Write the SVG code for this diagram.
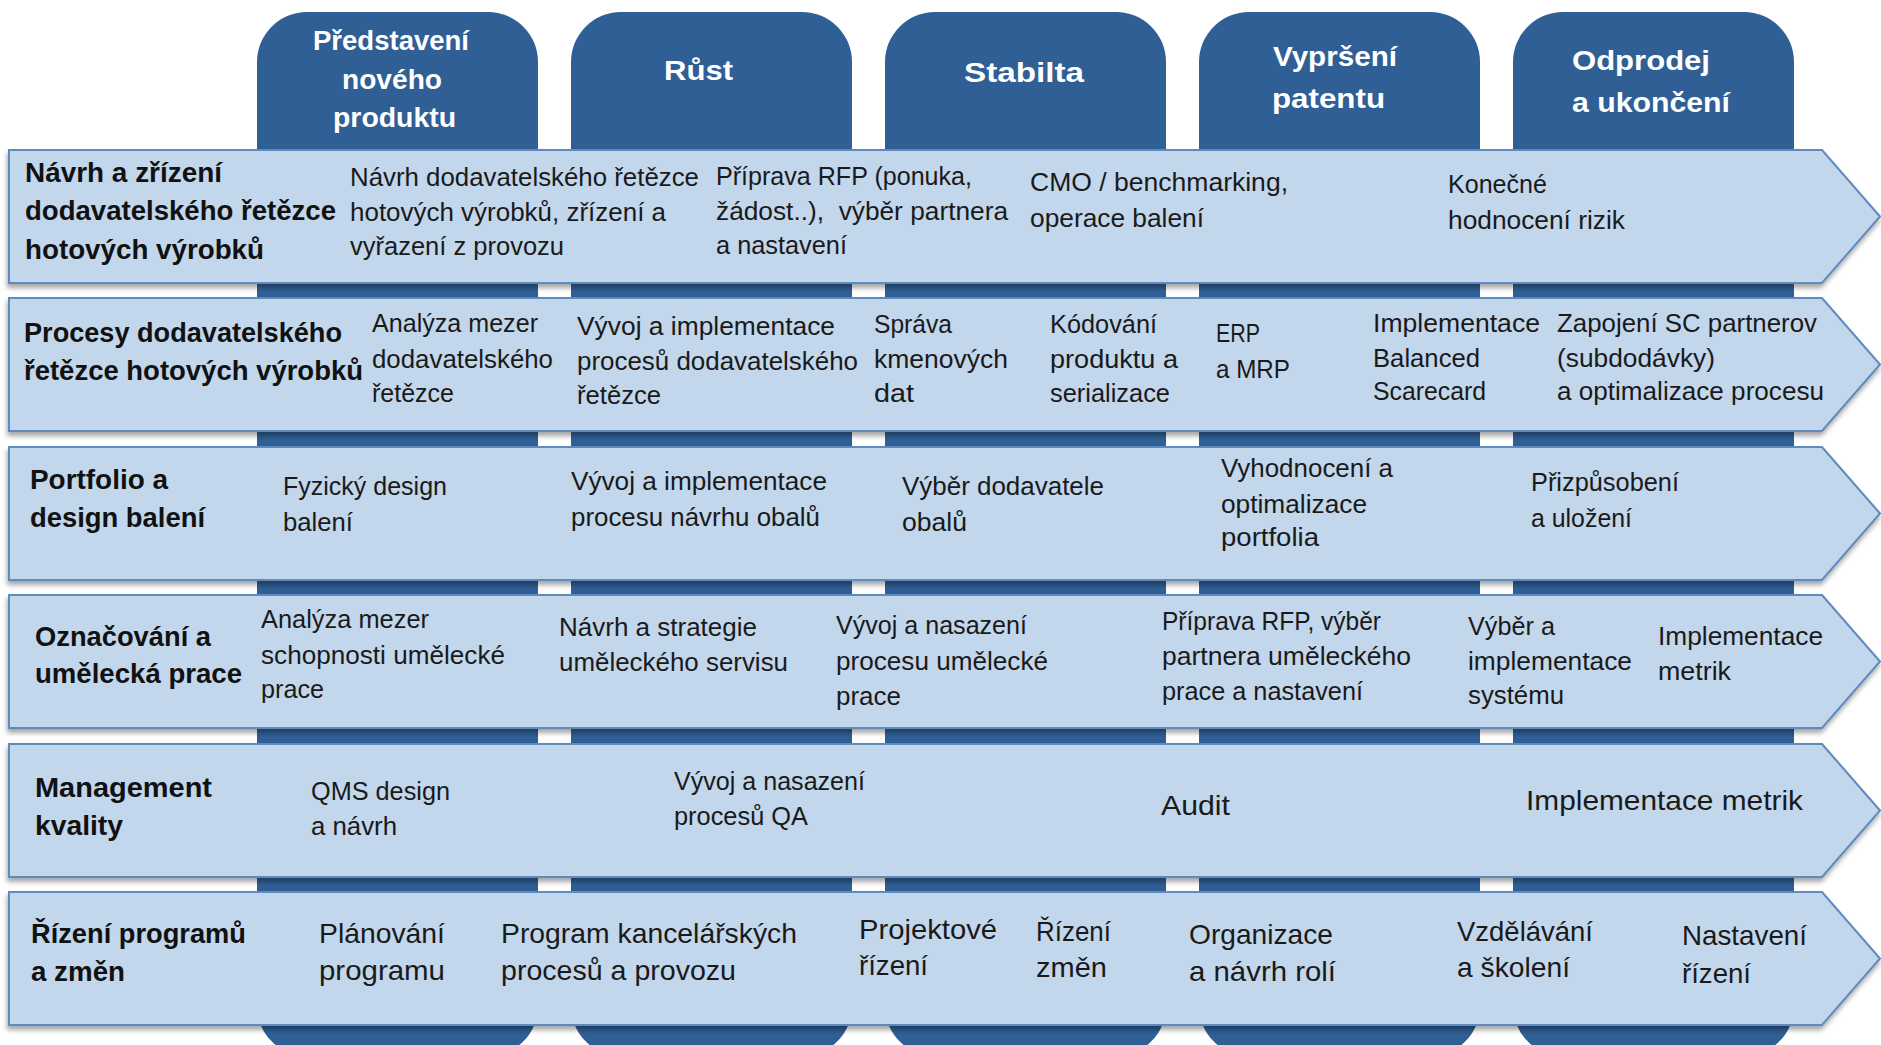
<svg xmlns="http://www.w3.org/2000/svg" width="1881" height="1045" viewBox="0 0 1881 1045">
  <defs>
    <filter id="bandShadow" x="-2%" y="-10%" width="104%" height="130%">
      <feDropShadow dx="-1" dy="4" stdDeviation="2.5" flood-color="#000" flood-opacity="0.35"/>
    </filter>
    <!-- chevron band shape, 133 tall -->
    <path id="band" d="M9,0 H1822 L1880,66.5 L1822,133 H9 Z"/>
  </defs>
  <style>
    .col { fill: #2f5f95; }
    .hdr { font-family: "Liberation Sans", Arial, sans-serif; font-weight: bold; font-size: 27px; fill: #ffffff; }
    .bandShape { fill: #c2d6ec; stroke: #5f8abd; stroke-width: 2; }
    .lbl { font-family: "Liberation Sans", Arial, sans-serif; font-weight: bold; font-size: 27px; fill: #111111; }
    .txt { font-family: "Liberation Sans", Arial, sans-serif; font-size: 25px; fill: #1a1a1a; }
    .big { font-size: 28px; }
  </style>

  <rect width="1881" height="1045" fill="#ffffff"/>

  <!-- lifecycle phase columns -->
  <g id="phase-introduction">
    <rect class="col" x="257" y="12" width="281" height="1044" rx="50" ry="50"/>
    <text class="hdr" x="313" y="50" textLength="156" lengthAdjust="spacingAndGlyphs">Představení</text>
    <text class="hdr" x="342" y="89" textLength="100" lengthAdjust="spacingAndGlyphs">nového</text>
    <text class="hdr" x="333" y="127" textLength="123" lengthAdjust="spacingAndGlyphs">produktu</text>
  </g>
  <g id="phase-growth">
    <rect class="col" x="571" y="12" width="281" height="1044" rx="50" ry="50"/>
    <text class="hdr" x="664" y="80" textLength="69" lengthAdjust="spacingAndGlyphs">Růst</text>
  </g>
  <g id="phase-stability">
    <rect class="col" x="885" y="12" width="281" height="1044" rx="50" ry="50"/>
    <text class="hdr" x="964" y="82" textLength="120" lengthAdjust="spacingAndGlyphs">Stabilta</text>
  </g>
  <g id="phase-patent-expiry">
    <rect class="col" x="1199" y="12" width="281" height="1044" rx="50" ry="50"/>
    <text class="hdr" x="1273" y="66" textLength="124" lengthAdjust="spacingAndGlyphs">Vypršení</text>
    <text class="hdr" x="1272" y="108" textLength="113" lengthAdjust="spacingAndGlyphs">patentu</text>
  </g>
  <g id="phase-divestment">
    <rect class="col" x="1513" y="12" width="281" height="1044" rx="50" ry="50"/>
    <text class="hdr" x="1572" y="70" textLength="138" lengthAdjust="spacingAndGlyphs">Odprodej</text>
    <text class="hdr" x="1572" y="112" textLength="158" lengthAdjust="spacingAndGlyphs">a ukončení</text>
  </g>

  <!-- workstream bands -->
  <g id="row-supply-chain-design">
    <use href="#band" y="150" class="bandShape" filter="url(#bandShadow)"/>
    <text class="lbl" x="25" y="182" textLength="197" lengthAdjust="spacingAndGlyphs">Návrh a zřízení</text>
    <text class="lbl" x="25" y="220" textLength="311" lengthAdjust="spacingAndGlyphs">dodavatelského řetězce</text>
    <text class="lbl" x="25" y="259" textLength="239" lengthAdjust="spacingAndGlyphs">hotových výrobků</text>
    <text class="txt" x="350" y="186" textLength="349" lengthAdjust="spacingAndGlyphs">Návrh dodavatelského řetězce</text>
    <text class="txt" x="350" y="221" textLength="316" lengthAdjust="spacingAndGlyphs">hotových výrobků, zřízení a</text>
    <text class="txt" x="350" y="255" textLength="214" lengthAdjust="spacingAndGlyphs">vyřazení z provozu</text>
    <text class="txt" x="716" y="185" textLength="256" lengthAdjust="spacingAndGlyphs">Příprava RFP (ponuka,</text>
    <text class="txt" x="716" y="220" textLength="292" lengthAdjust="spacingAndGlyphs" xml:space="preserve">žádost..),  výběr partnera</text>
    <text class="txt" x="716" y="254" textLength="131" lengthAdjust="spacingAndGlyphs">a nastavení</text>
    <text class="txt" x="1030" y="191" textLength="258" lengthAdjust="spacingAndGlyphs">CMO / benchmarking,</text>
    <text class="txt" x="1030" y="227" textLength="174" lengthAdjust="spacingAndGlyphs">operace balení</text>
    <text class="txt" x="1448" y="193" textLength="99" lengthAdjust="spacingAndGlyphs">Konečné</text>
    <text class="txt" x="1448" y="229" textLength="177" lengthAdjust="spacingAndGlyphs">hodnocení rizik</text>
  </g>

  <g id="row-supply-chain-processes">
    <use href="#band" y="298" class="bandShape" filter="url(#bandShadow)"/>
    <text class="lbl" x="24" y="342" textLength="318" lengthAdjust="spacingAndGlyphs">Procesy dodavatelského</text>
    <text class="lbl" x="24" y="380" textLength="339" lengthAdjust="spacingAndGlyphs">řetězce hotových výrobků</text>
    <text class="txt" x="372" y="332" textLength="166" lengthAdjust="spacingAndGlyphs">Analýza mezer</text>
    <text class="txt" x="372" y="368" textLength="181" lengthAdjust="spacingAndGlyphs">dodavatelského</text>
    <text class="txt" x="372" y="402" textLength="82" lengthAdjust="spacingAndGlyphs">řetězce</text>
    <text class="txt" x="577" y="335" textLength="258" lengthAdjust="spacingAndGlyphs">Vývoj a implementace</text>
    <text class="txt" x="577" y="370" textLength="281" lengthAdjust="spacingAndGlyphs">procesů dodavatelského</text>
    <text class="txt" x="577" y="404" textLength="84" lengthAdjust="spacingAndGlyphs">řetězce</text>
    <text class="txt" x="874" y="333" textLength="78" lengthAdjust="spacingAndGlyphs">Správa</text>
    <text class="txt" x="874" y="368" textLength="134" lengthAdjust="spacingAndGlyphs">kmenových</text>
    <text class="txt" x="874" y="402" textLength="40" lengthAdjust="spacingAndGlyphs">dat</text>
    <text class="txt" x="1050" y="333" textLength="107" lengthAdjust="spacingAndGlyphs">Kódování</text>
    <text class="txt" x="1050" y="368" textLength="128" lengthAdjust="spacingAndGlyphs">produktu a</text>
    <text class="txt" x="1050" y="402" textLength="120" lengthAdjust="spacingAndGlyphs">serializace</text>
    <text class="txt" x="1216" y="342" textLength="44" lengthAdjust="spacingAndGlyphs">ERP</text>
    <text class="txt" x="1216" y="378" textLength="74" lengthAdjust="spacingAndGlyphs">a MRP</text>
    <text class="txt" x="1373" y="332" textLength="167" lengthAdjust="spacingAndGlyphs">Implementace</text>
    <text class="txt" x="1373" y="367" textLength="107" lengthAdjust="spacingAndGlyphs">Balanced</text>
    <text class="txt" x="1373" y="400" textLength="113" lengthAdjust="spacingAndGlyphs">Scarecard</text>
    <text class="txt" x="1557" y="332" textLength="260" lengthAdjust="spacingAndGlyphs">Zapojení SC partnerov</text>
    <text class="txt" x="1557" y="367" textLength="158" lengthAdjust="spacingAndGlyphs">(subdodávky)</text>
    <text class="txt" x="1557" y="400" textLength="267" lengthAdjust="spacingAndGlyphs">a optimalizace procesu</text>
  </g>

  <g id="row-packaging">
    <use href="#band" y="447" class="bandShape" filter="url(#bandShadow)"/>
    <text class="lbl" x="30" y="489" textLength="138" lengthAdjust="spacingAndGlyphs">Portfolio a</text>
    <text class="lbl" x="30" y="527" textLength="175" lengthAdjust="spacingAndGlyphs">design balení</text>
    <text class="txt" x="283" y="495" textLength="164" lengthAdjust="spacingAndGlyphs">Fyzický design</text>
    <text class="txt" x="283" y="531" textLength="70" lengthAdjust="spacingAndGlyphs">balení</text>
    <text class="txt" x="571" y="490" textLength="256" lengthAdjust="spacingAndGlyphs">Vývoj a implementace</text>
    <text class="txt" x="571" y="526" textLength="249" lengthAdjust="spacingAndGlyphs">procesu návrhu obalů</text>
    <text class="txt" x="902" y="495" textLength="202" lengthAdjust="spacingAndGlyphs">Výběr dodavatele</text>
    <text class="txt" x="902" y="531" textLength="65" lengthAdjust="spacingAndGlyphs">obalů</text>
    <text class="txt" x="1221" y="477" textLength="172" lengthAdjust="spacingAndGlyphs">Vyhodnocení a</text>
    <text class="txt" x="1221" y="513" textLength="146" lengthAdjust="spacingAndGlyphs">optimalizace</text>
    <text class="txt" x="1221" y="546" textLength="98" lengthAdjust="spacingAndGlyphs">portfolia</text>
    <text class="txt" x="1531" y="491" textLength="148" lengthAdjust="spacingAndGlyphs">Přizpůsobení</text>
    <text class="txt" x="1531" y="527" textLength="101" lengthAdjust="spacingAndGlyphs">a uložení</text>
  </g>

  <g id="row-labeling-artwork">
    <use href="#band" y="595" class="bandShape" filter="url(#bandShadow)"/>
    <text class="lbl" x="35" y="646" textLength="176" lengthAdjust="spacingAndGlyphs">Označování a</text>
    <text class="lbl" x="35" y="683" textLength="207" lengthAdjust="spacingAndGlyphs">umělecká prace</text>
    <text class="txt" x="261" y="628" textLength="168" lengthAdjust="spacingAndGlyphs">Analýza mezer</text>
    <text class="txt" x="261" y="664" textLength="244" lengthAdjust="spacingAndGlyphs">schopnosti umělecké</text>
    <text class="txt" x="261" y="698" textLength="63" lengthAdjust="spacingAndGlyphs">prace</text>
    <text class="txt" x="559" y="636" textLength="198" lengthAdjust="spacingAndGlyphs">Návrh a strategie</text>
    <text class="txt" x="559" y="671" textLength="229" lengthAdjust="spacingAndGlyphs">uměleckého servisu</text>
    <text class="txt" x="836" y="634" textLength="191" lengthAdjust="spacingAndGlyphs">Vývoj a nasazení</text>
    <text class="txt" x="836" y="670" textLength="212" lengthAdjust="spacingAndGlyphs">procesu umělecké</text>
    <text class="txt" x="836" y="705" textLength="65" lengthAdjust="spacingAndGlyphs">prace</text>
    <text class="txt" x="1162" y="630" textLength="219" lengthAdjust="spacingAndGlyphs">Příprava RFP, výběr</text>
    <text class="txt" x="1162" y="665" textLength="249" lengthAdjust="spacingAndGlyphs">partnera uměleckého</text>
    <text class="txt" x="1162" y="700" textLength="201" lengthAdjust="spacingAndGlyphs">prace a nastavení</text>
    <text class="txt" x="1468" y="635" textLength="87" lengthAdjust="spacingAndGlyphs">Výběr a</text>
    <text class="txt" x="1468" y="670" textLength="164" lengthAdjust="spacingAndGlyphs">implementace</text>
    <text class="txt" x="1468" y="704" textLength="96" lengthAdjust="spacingAndGlyphs">systému</text>
    <text class="txt" x="1658" y="645" textLength="165" lengthAdjust="spacingAndGlyphs">Implementace</text>
    <text class="txt" x="1658" y="680" textLength="73" lengthAdjust="spacingAndGlyphs">metrik</text>
  </g>

  <g id="row-quality">
    <use href="#band" y="744" class="bandShape" filter="url(#bandShadow)"/>
    <text class="lbl" x="35" y="797" textLength="177" lengthAdjust="spacingAndGlyphs">Management</text>
    <text class="lbl" x="35" y="835" textLength="88" lengthAdjust="spacingAndGlyphs">kvality</text>
    <text class="txt" x="311" y="800" textLength="139" lengthAdjust="spacingAndGlyphs">QMS design</text>
    <text class="txt" x="311" y="835" textLength="86" lengthAdjust="spacingAndGlyphs">a návrh</text>
    <text class="txt" x="674" y="790" textLength="191" lengthAdjust="spacingAndGlyphs">Vývoj a nasazení</text>
    <text class="txt" x="674" y="825" textLength="134" lengthAdjust="spacingAndGlyphs">procesů QA</text>
    <text class="txt big" x="1161" y="815" textLength="69" lengthAdjust="spacingAndGlyphs">Audit</text>
    <text class="txt big" x="1526" y="810" textLength="277" lengthAdjust="spacingAndGlyphs">Implementace metrik</text>
  </g>

  <g id="row-program-change">
    <use href="#band" y="892" class="bandShape" filter="url(#bandShadow)"/>
    <text class="lbl" x="31" y="943" textLength="215" lengthAdjust="spacingAndGlyphs">Řízení programů</text>
    <text class="lbl" x="31" y="981" textLength="94" lengthAdjust="spacingAndGlyphs">a změn</text>
    <text class="txt big" x="319" y="943" textLength="126" lengthAdjust="spacingAndGlyphs">Plánování</text>
    <text class="txt big" x="319" y="980" textLength="126" lengthAdjust="spacingAndGlyphs">programu</text>
    <text class="txt big" x="501" y="943" textLength="296" lengthAdjust="spacingAndGlyphs">Program kancelářských</text>
    <text class="txt big" x="501" y="980" textLength="235" lengthAdjust="spacingAndGlyphs">procesů a provozu</text>
    <text class="txt big" x="859" y="939" textLength="138" lengthAdjust="spacingAndGlyphs">Projektové</text>
    <text class="txt big" x="859" y="975" textLength="69" lengthAdjust="spacingAndGlyphs">řízení</text>
    <text class="txt big" x="1036" y="941" textLength="75" lengthAdjust="spacingAndGlyphs">Řízení</text>
    <text class="txt big" x="1036" y="977" textLength="71" lengthAdjust="spacingAndGlyphs">změn</text>
    <text class="txt big" x="1189" y="944" textLength="144" lengthAdjust="spacingAndGlyphs">Organizace</text>
    <text class="txt big" x="1189" y="981" textLength="147" lengthAdjust="spacingAndGlyphs">a návrh rolí</text>
    <text class="txt big" x="1457" y="941" textLength="136" lengthAdjust="spacingAndGlyphs">Vzdělávání</text>
    <text class="txt big" x="1457" y="977" textLength="113" lengthAdjust="spacingAndGlyphs">a školení</text>
    <text class="txt big" x="1682" y="945" textLength="125" lengthAdjust="spacingAndGlyphs">Nastavení</text>
    <text class="txt big" x="1682" y="983" textLength="69" lengthAdjust="spacingAndGlyphs">řízení</text>
  </g>
</svg>
